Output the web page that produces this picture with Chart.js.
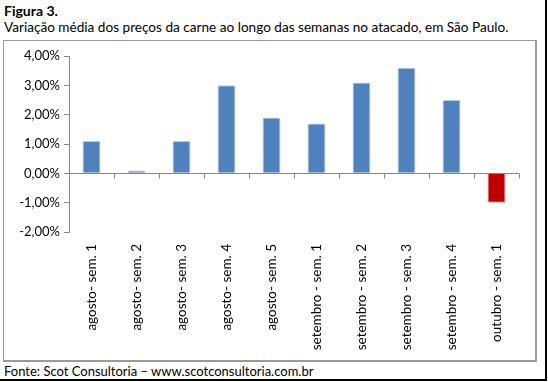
<!DOCTYPE html>
<html>
<head>
<meta charset="utf-8">
<script src="https://cdn.jsdelivr.net/npm/chart.js@4.4.0/dist/chart.umd.min.js"></script>
<style>
  body { margin: 0; background: #fff; font-family: Lato, "Liberation Sans", sans-serif; color: #000; }
  #frame { position: absolute; left: 0; top: 0; width: 545px; height: 379px; border-right: 2px solid #000; border-bottom: 2px solid #000; }
  #title { position: absolute; left: 4px; top: 2px; font-size: 14px; font-weight: bold; }
  #subtitle { position: absolute; left: 4px; top: 19px; font-size: 13.6px; }
  #box { position: absolute; left: 3px; top: 40px; width: 531px; height: 319px;
         border: 1px solid #9a9a9a; border-right-width: 2px; border-bottom-width: 2px; }
  #source { position: absolute; left: 4px; top: 363px; font-size: 13px; }
</style>
</head>
<body>
<div id="frame"></div>
<div id="title">Figura 3.</div>
<div id="subtitle">Variação média dos preços da carne ao longo das semanas no atacado, em São Paulo.</div>
<div id="box"><canvas id="chart" width="531" height="319"></canvas></div>
<div id="source">Fonte: Scot Consultoria – www.scotconsultoria.com.br</div>
<script>
const labels = ["agosto- sem. 1", "agosto- sem. 2", "agosto- sem. 3", "agosto- sem. 4", "agosto- sem. 5",
  "setembro - sem. 1", "setembro - sem. 2", "setembro - sem. 3", "setembro - sem. 4", "outubro - sem. 1"];
const values = [1.1, 0.1, 1.1, 3.0, 1.9, 1.7, 3.1, 3.6, 2.5, -1.0];
const yTicks = [-2, -1, 0, 1, 2, 3, 4];

const axisGray = "#868686";

// linha do zero com marcas entre categorias (como no Excel)
const zeroLine = {
  id: "zeroLine",
  afterDatasetsDraw(chart) {
    const { ctx, scales: { x, y } } = chart;
    const y0 = Math.round(y.getPixelForValue(0)) + 0.5;
    ctx.save();
    ctx.strokeStyle = axisGray;
    ctx.lineWidth = 1;
    ctx.beginPath();
    ctx.moveTo(x.left, y0);
    ctx.lineTo(x.right, y0);
    for (let i = 0; i <= labels.length; i++) {
      const px = Math.round(x.getPixelForValue(i - 0.5)) + 0.5;
      ctx.moveTo(px, y0);
      ctx.lineTo(px, y0 + 5);
    }
    ctx.stroke();
    ctx.restore();
  }
};

new Chart(document.getElementById("chart"), {
  type: "bar",
  data: {
    labels: labels,
    datasets: [{
      data: values,
      backgroundColor: values.map(v => v < 0 ? "#C00000" : "#4F81BD"),
      borderColor: values.map(v => v < 0 ? "#E8A0A0" : "#B9CDE5"),
      borderWidth: 1,
      barPercentage: 0.8,
      categoryPercentage: 0.5
    }]
  },
  options: {
    responsive: false,
    animation: false,
    layout: { padding: { top: 15, right: 16, left: 0, bottom: 0 } },
    plugins: { legend: { display: false }, tooltip: { enabled: false } },
    scales: {
      x: {
        grid: { display: false },
        border: { display: false },
        ticks: {
          minRotation: 90, maxRotation: 90, autoSkip: false,
          color: "#000", padding: 4,
          font: { family: "Lato", size: 13.5 }
        },
        afterFit(s) { s.height = 128; }
      },
      y: {
        min: -2, max: 4,
        afterBuildTicks(s) { s.ticks = yTicks.map(v => ({ value: v })); },
        grid: { drawOnChartArea: false, tickLength: 5, color: axisGray },
        border: { display: true, color: axisGray },
        ticks: {
          color: "#000", padding: 4,
          font: { family: "Lato", size: 13 },
          callback: v => v.toFixed(2).replace(".", ",") + "%"
        },
        afterFit(s) { s.width = 65; }
      }
    }
  },
  plugins: [zeroLine]
});
</script>
</body>
</html>
